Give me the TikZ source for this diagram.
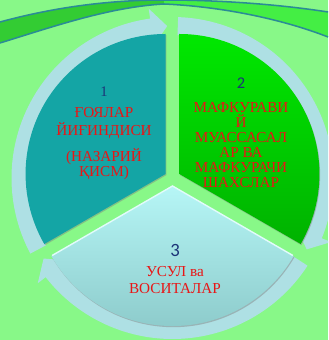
\documentclass[tikz,border=0pt]{standalone}
\usepackage{fontspec}
\setmainfont{Liberation Serif}
\newfontfamily\numfont{Carlito}
\usetikzlibrary{shadows,scopes}

\definecolor{bggreen}{RGB}{136,248,136}
\definecolor{bandleft}{RGB}{51,204,51}
\definecolor{bandright}{RGB}{68,238,68}
\definecolor{bandline}{RGB}{42,140,150}
\definecolor{ringblue}{RGB}{174,224,228}
\definecolor{tealsec}{RGB}{20,165,165}
\definecolor{greentop}{RGB}{0,232,0}
\definecolor{greenbot}{RGB}{0,178,0}
\definecolor{cyantop}{RGB}{182,246,246}
\definecolor{cyanbot}{RGB}{136,198,198}
\definecolor{numblue}{RGB}{28,52,120}
\definecolor{txtred}{RGB}{232,22,22}

\tikzset{
  sector/.style={drop shadow={shadow xshift=.6pt,shadow yshift=-1pt,opacity=.45}},
  sectortext/.style={text=txtred,align=center,font=\fontsize{13}{12.8}\selectfont},
  numtext/.style={text=numblue}
}

% one arrow of the ring: start angle, head base angle, tip angle
\newcommand\cyclearrow[3]{%
  \fill[ringblue] (#1:161) arc[start angle=#1,end angle=#2,radius=161]
    -- (#2:171) -- (#3:152) -- (#2:134) -- (#2:143)
    arc[start angle=#2,end angle=#1,radius=143] -- cycle;}

\begin{document}
\begin{tikzpicture}[x=0.03cm,y=0.03cm]
    \useasboundingbox (0,0) rectangle (328,340);
    \fill[bggreen] (0,0) rectangle (328,340);
    \clip (0,0) rectangle (328,340);

    % band at the top
    \fill[bandleft] (0,318) .. controls (55,333) and (110,340) .. (164,340)
      -- (164,336) .. controls (110,333) and (55,314) .. (0,297) -- cycle;
    \fill[bandright] (164,340) .. controls (230,340) and (290,334) .. (328,328)
      -- (328,303) .. controls (290,318) and (230,333) .. (164,336) -- cycle;
    \draw[bandline,line width=1.3] (0,318) .. controls (55,333) and (110,340) .. (164,340)
      .. controls (230,340) and (290,334) .. (328,328);
    \draw[bandline,line width=1.3] (0,297) .. controls (55,314) and (110,333) .. (164,336)
      .. controls (230,333) and (290,318) .. (328,303);

    {[shift={(172.5,162)}]
      \cyclearrow{208}{98}{92}
      \cyclearrow{88}{-22}{-28}
      \cyclearrow{-33}{-142}{-148}

      \fill[tealsec,sector] (150:8) -- ++(90:140)
        arc[start angle=90,end angle=210,radius=140] -- cycle;
      \shade[top color=greentop,bottom color=greenbot,sector] (30:8) -- ++(90:140)
        arc[start angle=90,end angle=-30,radius=140] -- cycle;
      \shade[top color=cyantop,bottom color=cyanbot,sector] (270:8) -- ++(210:140)
        arc[start angle=210,end angle=330,radius=140] -- cycle;
      \draw[white!60!cyantop,line width=1.2] (270:8) ++(210:139) -- (270:8) -- ++(330:139);
    }

    \node[numtext,font=\fontsize{12.5}{14}\selectfont] (num1) at (104,248) {1};
    \node[sectortext] (txt1) at (104,196) {ҒОЯЛАР\\[2.5pt]ЙИҒИНДИСИ\\[7.6pt](НАЗАРИЙ\\ҚИСМ)};

    \node[numtext,font=\numfont\fontsize{14}{16}\selectfont] (num2) at (241,257) {2};
    \node[sectortext] (txt2) at (241,195) {МАФКУРАВИ\\Й\\МУАССАСАЛ\\АР ВА\\МАФКУРАЧИ\\ШАХСЛАР};

    \node[numtext,font=\numfont\fontsize{16}{18}\selectfont] (num3) at (175,90) {3};
    \node[sectortext] (txt3) at (175,60) {УСУЛ ва\\[1.7pt]ВОСИТАЛАР};
\end{tikzpicture}
\end{document}
